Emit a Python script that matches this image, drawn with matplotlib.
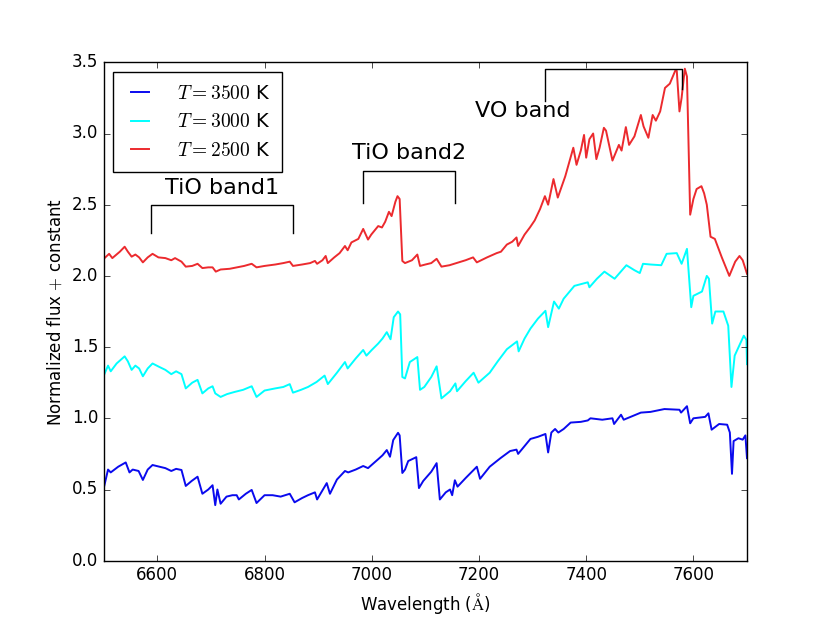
import matplotlib
matplotlib.use("Agg")
import matplotlib.pyplot as plt

plt.style.use("classic")

# spectra (wavelength in A, normalized flux + offset)
wave_3500 = [6500, 6508, 6513, 6527, 6541, 6548, 6554, 6565, 6573, 6582, 6591, 6604, 6615, 6626,
             6635, 6645, 6653, 6664, 6675, 6684, 6695, 6703, 6708, 6712, 6718, 6729, 6740, 6748,
             6752, 6765, 6776, 6785, 6800, 6815, 6830, 6847, 6856, 6870, 6881, 6894, 6898, 6916,
             6922, 6935, 6950, 6956, 6970, 6984, 6993, 7012, 7020, 7028, 7034, 7040, 7049, 7052,
             7057, 7062, 7068, 7083, 7088, 7096, 7111, 7121, 7127, 7138, 7146, 7150, 7155, 7160,
             7175, 7196, 7202, 7220, 7240, 7258, 7270, 7273, 7296, 7310, 7324, 7329, 7335, 7342,
             7348, 7358, 7371, 7390, 7403, 7408, 7430, 7449, 7452, 7465, 7470, 7502, 7520, 7546,
             7574, 7577, 7588, 7594, 7600, 7622, 7628, 7634, 7648, 7663, 7668, 7672, 7675, 7684,
             7692, 7697, 7700]
flux_3500 = [0.51, 0.64, 0.62, 0.66, 0.69, 0.62, 0.64, 0.63, 0.567, 0.64, 0.672, 0.66, 0.65, 0.63,
             0.645, 0.637, 0.525, 0.56, 0.59, 0.47, 0.50, 0.53, 0.39, 0.50, 0.40, 0.45, 0.46, 0.46,
             0.43, 0.47, 0.497, 0.405, 0.46, 0.46, 0.45, 0.47, 0.41, 0.44, 0.46, 0.48, 0.43, 0.545,
             0.47, 0.57, 0.63, 0.62, 0.64, 0.665, 0.65, 0.713, 0.74, 0.777, 0.73, 0.847, 0.898, 0.88,
             0.616, 0.64, 0.70, 0.727, 0.51, 0.56, 0.625, 0.685, 0.43, 0.48, 0.50, 0.46, 0.565, 0.52,
             0.58, 0.66, 0.575, 0.66, 0.72, 0.77, 0.78, 0.75, 0.855, 0.87, 0.89, 0.76, 0.90, 0.925,
             0.90, 0.925, 0.97, 0.975, 0.985, 1.0, 0.99, 1.0, 0.96, 1.025, 0.99, 1.04, 1.045, 1.065,
             1.06, 1.04, 1.085, 0.965, 1.0, 1.01, 1.035, 0.92, 0.96, 0.955, 0.90, 0.61, 0.84, 0.86,
             0.85, 0.88, 0.72]

wave_3000 = [6500, 6508, 6513, 6524, 6539, 6545, 6552, 6559, 6566, 6573, 6582, 6591, 6604, 6615,
             6626, 6635, 6645, 6653, 6665, 6675, 6684, 6695, 6703, 6708, 6718, 6730, 6744, 6760,
             6776, 6785, 6800, 6820, 6835, 6847, 6853, 6868, 6881, 6897, 6912, 6918, 6935, 6950,
             6955, 6970, 6984, 6990, 7000, 7012, 7020, 7028, 7035, 7041, 7049, 7053, 7057, 7062,
             7071, 7085, 7090, 7098, 7111, 7121, 7130, 7146, 7156, 7159, 7175, 7190, 7199, 7220,
             7235, 7252, 7271, 7274, 7285, 7296, 7310, 7324, 7329, 7340, 7349, 7358, 7378, 7403,
             7406, 7420, 7434, 7453, 7475, 7490, 7500, 7506, 7520, 7540, 7550, 7569, 7578, 7588,
             7596, 7600, 7616, 7625, 7629, 7635, 7641, 7656, 7665, 7671, 7677, 7694, 7699, 7700]
flux_3000 = [1.30, 1.37, 1.33, 1.385, 1.435, 1.40, 1.34, 1.37, 1.35, 1.295, 1.35, 1.385, 1.36, 1.34,
             1.31, 1.33, 1.31, 1.21, 1.25, 1.27, 1.175, 1.21, 1.225, 1.175, 1.15, 1.17, 1.185, 1.20,
             1.225, 1.15, 1.195, 1.21, 1.22, 1.24, 1.18, 1.20, 1.22, 1.255, 1.30, 1.24, 1.32, 1.395,
             1.35, 1.42, 1.48, 1.44, 1.48, 1.525, 1.56, 1.605, 1.555, 1.71, 1.75, 1.73, 1.29, 1.28,
             1.395, 1.43, 1.20, 1.22, 1.29, 1.365, 1.14, 1.19, 1.245, 1.19, 1.26, 1.32, 1.25, 1.32,
             1.40, 1.485, 1.54, 1.47, 1.56, 1.63, 1.70, 1.755, 1.64, 1.82, 1.77, 1.84, 1.93, 1.955,
             1.92, 1.98, 2.03, 1.98, 2.075, 2.04, 2.02, 2.085, 2.08, 2.075, 2.155, 2.16, 2.085, 2.19,
             1.78, 1.86, 1.89, 2.0, 1.98, 1.665, 1.75, 1.75, 1.65, 1.22, 1.44, 1.58, 1.55, 1.38]

wave_2500 = [6500, 6510, 6516, 6530, 6539, 6545, 6552, 6559, 6566, 6573, 6582, 6591, 6602, 6615,
             6626, 6633, 6640, 6645, 6653, 6665, 6675, 6684, 6695, 6703, 6709, 6718, 6735, 6748,
             6762, 6776, 6785, 6800, 6820, 6835, 6847, 6853, 6870, 6885, 6894, 6898, 6908, 6914,
             6918, 6930, 6940, 6950, 6955, 6962, 6975, 6984, 6993, 6999, 7012, 7019, 7025, 7032,
             7037, 7044, 7048, 7052, 7057, 7062, 7075, 7085, 7090, 7100, 7111, 7121, 7130, 7145,
             7158, 7175, 7189, 7196, 7215, 7233, 7241, 7252, 7262, 7270, 7273, 7285, 7295, 7304,
             7314, 7323, 7329, 7339, 7347, 7361, 7376, 7382, 7390, 7396, 7400, 7406, 7413, 7419,
             7425, 7433, 7437, 7449, 7461, 7466, 7474, 7480, 7490, 7502, 7507, 7516, 7524, 7530,
             7538, 7547, 7556, 7566, 7569, 7574, 7578, 7584, 7588, 7594, 7600, 7606, 7615, 7620,
             7625, 7632, 7640, 7653, 7667, 7678, 7686, 7692, 7700]
flux_2500 = [2.12, 2.155, 2.125, 2.17, 2.205, 2.17, 2.135, 2.15, 2.13, 2.095, 2.13, 2.155, 2.13, 2.125,
             2.11, 2.125, 2.11, 2.10, 2.065, 2.07, 2.085, 2.055, 2.06, 2.06, 2.03, 2.045, 2.05, 2.06,
             2.07, 2.085, 2.06, 2.07, 2.08, 2.09, 2.10, 2.07, 2.08, 2.09, 2.105, 2.085, 2.11, 2.14,
             2.09, 2.13, 2.16, 2.21, 2.18, 2.235, 2.26, 2.33, 2.255, 2.29, 2.35, 2.34, 2.38, 2.45,
             2.42, 2.52, 2.56, 2.54, 2.105, 2.09, 2.11, 2.15, 2.07, 2.08, 2.09, 2.12, 2.065, 2.075,
             2.09, 2.11, 2.13, 2.095, 2.13, 2.16, 2.17, 2.22, 2.24, 2.27, 2.21, 2.29, 2.34, 2.39,
             2.47, 2.56, 2.50, 2.68, 2.55, 2.70, 2.90, 2.78, 2.88, 2.99, 2.83, 2.96, 3.0, 2.82,
             2.90, 3.04, 3.02, 2.81, 2.92, 2.88, 3.045, 2.92, 2.98, 3.13, 3.05, 2.97, 3.13, 3.09,
             3.155, 3.32, 3.35, 3.44, 3.44, 3.155, 3.25, 3.455, 3.4, 2.43, 2.54, 2.61, 2.63, 2.58,
             2.50, 2.275, 2.26, 2.13, 2.0, 2.10, 2.14, 2.11, 2.015]

# band markers
band_names = ["TiO band1", "TiO band2", "VO band"]
band_start = [6589, 6983, 7324]
band_end = [6853, 7156, 7578]
band_top = [2.50, 2.74, 3.45]
band_left_low = [2.30, 2.515, 3.23]
band_right_low = [2.30, 2.515, 3.31]
label_x = [6720, 7070, 7281]
label_y = [2.62, 2.86, 3.16]

fig = plt.figure(figsize=(8.3, 6.23), dpi=100)
ax = fig.add_subplot(111)

ax.plot(wave_3500, flux_3500, color="#0a0aee", lw=1.4, label=r"$T=3500$ K")
ax.plot(wave_3000, flux_3000, color="cyan", lw=1.4, label=r"$T=3000$ K")
ax.plot(wave_2500, flux_2500, color="#ec2a2e", lw=1.4, label=r"$T=2500$ K")

for i in range(len(band_names)):
    ax.plot([band_start[i], band_start[i], band_end[i], band_end[i]],
            [band_left_low[i], band_top[i], band_top[i], band_right_low[i]],
            color="k", lw=1.0)
    ax.text(label_x[i], label_y[i], band_names[i], fontsize=16, ha="center", va="center")

ax.set_xlim(6500, 7700)
ax.set_ylim(0, 3.5)
ax.set_xticks([6600, 6800, 7000, 7200, 7400, 7600])
ax.set_xlabel(r"Wavelength ($\mathrm{\AA}$)")
ax.set_ylabel(r"Normalized flux $+$ constant")
ax.legend(loc="upper left", fontsize=14, handlelength=1.55, handletextpad=1.1,
          borderpad=0.6, labelspacing=0.5)

fig.savefig("out.png", dpi=100, facecolor="white")
